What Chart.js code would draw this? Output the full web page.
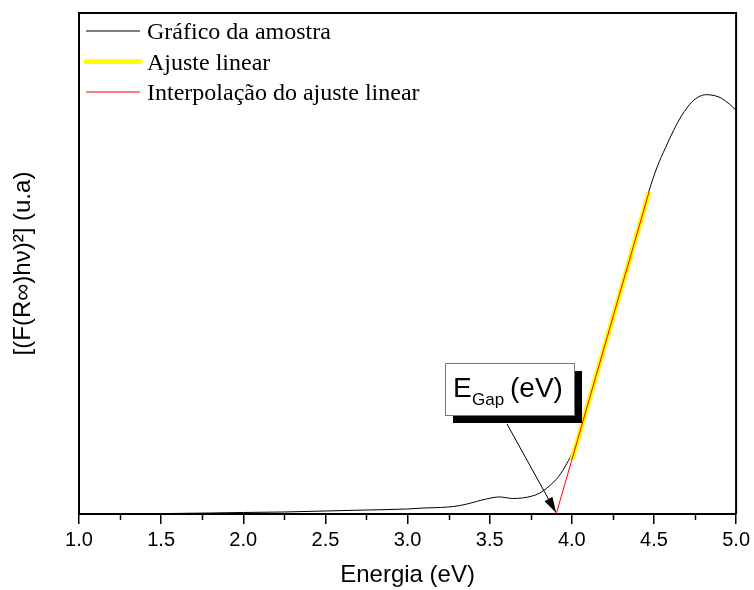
<!DOCTYPE html>
<html>
<head>
<meta charset="utf-8">
<script src="https://cdn.jsdelivr.net/npm/chart.js"></script>
<style>
  html, body { margin: 0; padding: 0; background: #fff; }
  #wrap { width: 754px; height: 590px; }
</style>
</head>
<body>
<div id="wrap"><canvas id="chart" width="754" height="590"></canvas></div>
<script>
// sample spectrum: energy (eV) vs [(F(R)hv)^2] in arbitrary units
const energia = [1.55, 1.8, 2.0, 2.25, 2.5, 2.75, 3.0, 3.1, 3.2, 3.28, 3.35, 3.42, 3.48, 3.56, 3.64, 3.70, 3.76,
  3.80, 3.86, 3.92, 3.97, 4.01, 4.05, 4.1, 4.2, 4.3, 4.4, 4.47, 4.52, 4.57, 4.62, 4.67, 4.73, 4.78, 4.82,
  4.87, 4.91, 4.96, 5.0];
const amostra = [0.001, 0.002, 0.003, 0.004, 0.006, 0.008, 0.010, 0.012, 0.013, 0.015, 0.019, 0.025, 0.030,
  0.034, 0.031, 0.032, 0.036, 0.041, 0.055, 0.075, 0.101, 0.128, 0.165, 0.222, 0.336, 0.450, 0.563, 0.645,
  0.693, 0.731, 0.766, 0.796, 0.822, 0.834, 0.837, 0.835, 0.830, 0.818, 0.806];

// linear fit segment and its extrapolation down to the energy axis
const ajusteX = [4.00, 4.47];
const ajusteY = [0.108, 0.643];
const interpX = [3.905, 4.47];
const interpY = [0, 0.643];
const eGap = 3.905;

const majorTicks = [1.0, 1.5, 2.0, 2.5, 3.0, 3.5, 4.0, 4.5, 5.0];
const minorTicks = [1.25, 1.75, 2.25, 2.75, 3.25, 3.75, 4.25, 4.75];

const pts = (xs, ys) => xs.map((v, i) => ({ x: v, y: ys[i] }));

const sans = "'Liberation Sans', Arial, sans-serif";
const serif = "'Liberation Serif', 'Times New Roman', serif";

// frame, minor ticks, legend and the E_Gap callout
const extras = {
  id: 'extras',
  afterDraw(chart) {
    const { ctx, chartArea: a, scales: { x, y } } = chart;
    ctx.save();

    ctx.strokeStyle = '#000';
    ctx.lineWidth = 2;
    ctx.beginPath();
    ctx.moveTo(a.left, a.top);
    ctx.lineTo(a.right, a.top);
    ctx.lineTo(a.right, a.bottom);
    ctx.stroke();

    ctx.lineWidth = 1.5;
    ctx.beginPath();
    minorTicks.forEach(v => {
      const px = Math.round(x.getPixelForValue(v)) + 0.5;
      ctx.moveTo(px, a.bottom);
      ctx.lineTo(px, a.bottom + 6);
    });
    ctx.stroke();

    // legend
    chart.data.datasets.forEach((ds, i) => {
      const ly = a.top + 18 + i * 30.5;
      ctx.strokeStyle = ds.borderColor;
      ctx.lineWidth = ds.borderWidth;
      ctx.lineCap = ds.borderWidth > 2 ? 'round' : 'butt';
      ctx.beginPath();
      ctx.moveTo(a.left + 7, ly);
      ctx.lineTo(a.left + 61, ly);
      ctx.stroke();
      ctx.fillStyle = '#000';
      ctx.font = '24px ' + serif;
      ctx.textBaseline = 'alphabetic';
      ctx.fillText(ds.label, a.left + 68, ly + 8);
    });
    ctx.lineCap = 'butt';

    // callout box with shadow
    const bx = Math.round(x.getPixelForValue(3.225));
    const by = Math.round(y.getPixelForValue(0.301));
    const bw = 129, bh = 52;
    ctx.fillStyle = '#000';
    ctx.fillRect(bx + 8, by + 8, bw, bh);
    ctx.fillStyle = '#fff';
    ctx.fillRect(bx, by, bw, bh);
    ctx.strokeStyle = '#777';
    ctx.lineWidth = 1;
    ctx.strokeRect(bx + 0.5, by + 0.5, bw, bh);

    ctx.fillStyle = '#000';
    ctx.font = '28px ' + sans;
    ctx.fillText('E', bx + 8, by + 34);
    ctx.fillText('(eV)', bx + 65, by + 34);
    ctx.font = '17px ' + sans;
    ctx.fillText('Gap', bx + 27, by + 42);

    // arrow pointing at the gap energy
    const x0 = bx + 62, y0 = by + 61;
    const x1 = x.getPixelForValue(eGap), y1 = y.getPixelForValue(0) - 1;
    const ang = Math.atan2(y1 - y0, x1 - x0);
    const hl = 16, hw = 4.5;
    const bxh = x1 - hl * Math.cos(ang), byh = y1 - hl * Math.sin(ang);
    ctx.strokeStyle = '#000';
    ctx.lineWidth = 1;
    ctx.beginPath();
    ctx.moveTo(x0, y0);
    ctx.lineTo(bxh, byh);
    ctx.stroke();
    ctx.beginPath();
    ctx.moveTo(x1, y1);
    ctx.lineTo(bxh + hw * Math.sin(ang), byh - hw * Math.cos(ang));
    ctx.lineTo(bxh - hw * Math.sin(ang), byh + hw * Math.cos(ang));
    ctx.closePath();
    ctx.fill();

    ctx.restore();
  }
};

new Chart(document.getElementById('chart'), {
  type: 'line',
  data: {
    datasets: [
      {
        label: 'Gráfico da amostra',
        data: pts(energia, amostra),
        borderColor: '#000',
        borderWidth: 1,
        pointRadius: 0,
        cubicInterpolationMode: 'monotone',
        order: 3,
      },
      {
        label: 'Ajuste linear',
        data: pts(ajusteX, ajusteY),
        borderColor: '#ffff00',
        borderWidth: 5,
        pointRadius: 0,
        order: 2,
      },
      {
        label: 'Interpolação do ajuste linear',
        data: pts(interpX, interpY),
        borderColor: '#ff0000',
        borderWidth: 1,
        pointRadius: 0,
        order: 1,
      },
    ],
  },
  options: {
    responsive: false,
    animation: false,
    layout: { padding: { top: 13, right: 17, left: 0, bottom: 0 } },
    plugins: {
      legend: { display: false },
      tooltip: { enabled: false },
    },
    scales: {
      x: {
        type: 'linear',
        min: 1,
        max: 5,
        afterFit: s => { s.height = 76; },
        afterBuildTicks: s => { s.ticks = majorTicks.map(v => ({ value: v })); },
        ticks: {
          callback: v => v.toFixed(1),
          color: '#000',
          padding: 4,
          font: { family: "'Liberation Sans Narrow', " + sans, size: 20 },
        },
        grid: {
          drawOnChartArea: false,
          drawTicks: true,
          tickLength: 10,
          color: '#000',
          lineWidth: 1.5,
        },
        border: { display: true, color: '#000', width: 2 },
        title: {
          display: true,
          text: 'Energia (eV)',
          color: '#000',
          font: { family: sans, size: 24 },
          padding: { top: 0, bottom: 0 },
        },
      },
      y: {
        type: 'linear',
        min: 0,
        max: 1,
        afterFit: s => { s.width = 79; },
        ticks: { display: false },
        grid: { display: false },
        border: { display: true, color: '#000', width: 2 },
        title: {
          display: true,
          text: '[(F(R∞)hν)²] (u.a)',
          color: '#000',
          font: { family: sans, size: 24 },
          padding: { top: 9, bottom: 0 },
        },
      },
    },
  },
  plugins: [extras],
});
</script>
</body>
</html>
